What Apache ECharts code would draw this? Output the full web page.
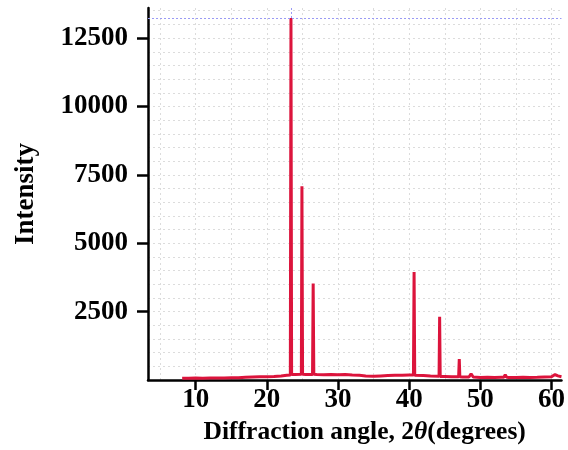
<!DOCTYPE html>
<html>
<head>
<meta charset="utf-8">
<script src="https://cdn.jsdelivr.net/npm/echarts@6/dist/echarts.min.js"></script>
<style>
html,body{margin:0;padding:0;background:#fff;}
#chart{width:568px;height:450px;}
</style>
</head>
<body>
<div id="chart"></div>
<script>
// 2θ angles (degrees)
const angles = [
  8.1, 9, 10, 11, 12, 13, 14, 15, 16, 17, 18, 19, 20, 21, 22, 22.8,
  23.3, 23.39, 23.48, 24, 24.85, 24.93, 25.02, 25.5, 26.42, 26.51, 26.6,
  27, 28, 29, 30, 31, 32, 33, 33.9, 35, 36, 37, 38, 39, 40,
  40.6, 40.69, 40.78, 41, 42, 43, 44.2, 44.28, 44.36, 45, 46,
  46.95, 47.04, 47.12, 47.5, 48.4, 48.7, 49, 50, 51, 52, 53,
  53.3, 53.5, 53.7, 54, 55, 56, 57, 58, 59, 60, 60.5, 60.9, 61.4
];
// Intensity values
const intensity = [
  60, 65, 70, 65, 70, 75, 70, 80, 85, 100, 110, 120, 115, 130, 150, 170,
  180, 13236, 200, 200, 210, 7080, 210, 200, 200, 3527, 210,
  200, 190, 200, 190, 200, 180, 170, 150, 140, 150, 160, 170, 175, 180,
  180, 3952, 170, 170, 160, 150, 140, 2316, 130, 130, 120,
  120, 764, 120, 110, 110, 230, 110, 90, 100, 90, 100,
  100, 193, 100, 95, 90, 100, 95, 100, 110, 120, 200, 150, 120
];
// tick labels
const xTicks = [10, 20, 30, 40, 50, 60];
const xGrid = [5, 10, 15, 20, 25, 30, 35, 40, 45, 50, 55, 60];
const yTicks = [2500, 5000, 7500, 10000, 12500];
const yGrid = [500,1000,1500,2000,2500,3000,3500,4000,4500,5000,5500,6000,6500,7000,7500,8000,8500,9000,9500,10000,10500,11000,11500,12000,12500,13000,13500];

const xMin = 3.3, xMax = 61.4, yMin = 0, yMax = 13600;

const pts = angles.map((a, i) => [a, intensity[i]]);
let pi = 0;
intensity.forEach((v, i) => { if (v > intensity[pi]) pi = i; });
const peakX = angles[pi], peakY = intensity[pi];

const font = "'Times New Roman','Liberation Serif',serif";
const gridLine = { show: true, lineStyle: { color: '#dcdcdc', type: [2, 3], width: 1 } };

const chart = echarts.init(document.getElementById('chart'));
chart.setOption({
  animation: false,
  backgroundColor: '#fff',
  grid: { left: 148, right: 5, top: 8, bottom: 69 },
  xAxis: [
    {
      type: 'value', min: xMin, max: xMax, position: 'bottom',
      axisLine: { show: true, onZero: false, lineStyle: { color: '#000', width: 2.5 } },
      axisTick: { show: true, length: 10, customValues: xTicks, lineStyle: { color: '#000', width: 2.5 } },
      axisLabel: { customValues: xTicks, margin: 7, color: '#000', fontSize: 27, fontWeight: 'bold', fontFamily: font, formatter: v => String(v) },
      splitLine: { show: false },
      name: '{a|Diffraction angle, 2}{b|θ}{a|(degrees)}',
      nameLocation: 'middle', nameGap: 39,
      nameTextStyle: {
        padding: [0, 0, 0, 20],
        rich: {
          a: { fontSize: 25.5, fontWeight: 'bold', fontFamily: font, color: '#000' },
          b: { fontSize: 25.5, fontWeight: 'bold', fontStyle: 'italic', fontFamily: font, color: '#000' }
        }
      }
    },
    {
      type: 'value', min: xMin, max: xMax, position: 'top',
      axisLine: { show: false }, axisLabel: { show: false },
      axisTick: { show: false, customValues: xGrid },
      splitLine: gridLine
    }
  ],
  yAxis: [
    {
      type: 'value', min: yMin, max: yMax, position: 'left',
      axisLine: { show: true, onZero: false, lineStyle: { color: '#000', width: 2.5 } },
      axisTick: { show: true, length: 11, customValues: yTicks, lineStyle: { color: '#000', width: 2.5 } },
      axisLabel: { customValues: yTicks, margin: 20, color: '#000', fontSize: 27, fontWeight: 'bold', fontFamily: font, formatter: v => String(v) },
      splitLine: { show: false },
      name: 'Intensity', nameLocation: 'middle', nameGap: 108,
      nameTextStyle: { fontSize: 27, fontWeight: 'bold', fontFamily: font, color: '#000' }
    },
    {
      type: 'value', min: yMin, max: yMax, position: 'right',
      axisLine: { show: false }, axisLabel: { show: false },
      axisTick: { show: false, customValues: yGrid },
      splitLine: gridLine
    }
  ],
  series: [
    {
      type: 'line', xAxisIndex: 0, yAxisIndex: 0,
      data: pts, showSymbol: false, symbol: 'none',
      lineStyle: { color: '#dc143c', width: 3 },
      itemStyle: { color: '#dc143c' },
      z: 3,
      markLine: {
        silent: true, symbol: 'none', animation: false,
        label: { show: false },
        lineStyle: { color: '#9a9af5', type: [2, 2], width: 1 },
        data: [
          { yAxis: peakY },
          [{ coord: [peakX, peakY] }, { coord: [peakX, yMax] }]
        ]
      }
    }
  ]
});
</script>
</body>
</html>
